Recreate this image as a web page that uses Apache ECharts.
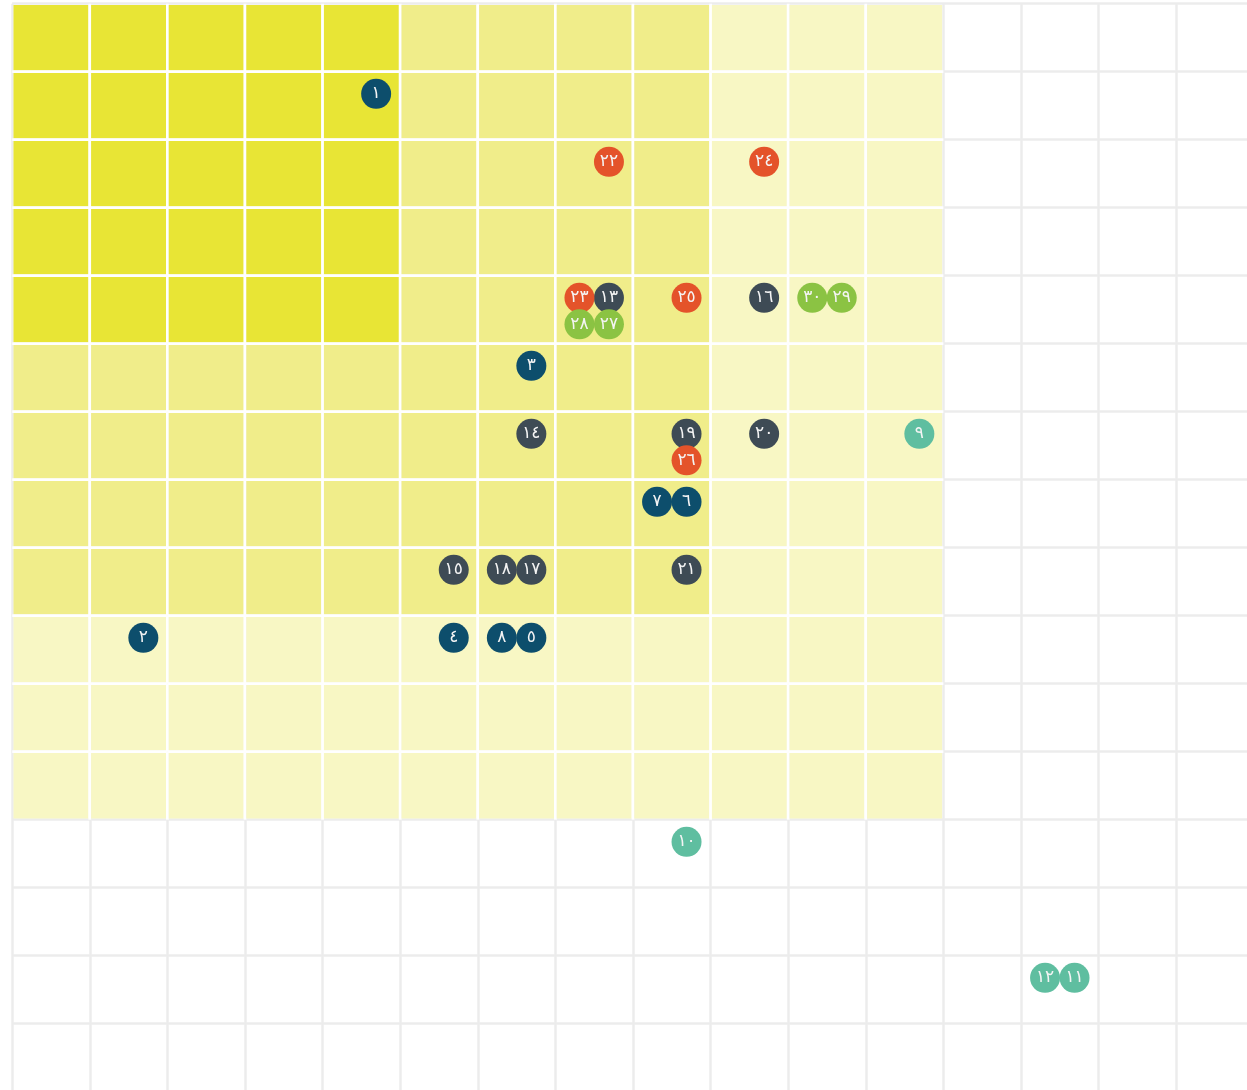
<!DOCTYPE html>
<html>
<head>
<meta charset="utf-8">
<style>
  html, body { margin: 0; padding: 0; background: #fff; }
  #chart { width: 1247px; height: 1090px; }
</style>
<script src="https://cdn.jsdelivr.net/npm/echarts@6/dist/echarts.min.js"></script>
</head>
<body>
<div id="chart"></div>
<script>
const gridSize = 16

// zone level of each cell, row by row from the top (0 = none, 3 = strongest)
const zoneRows = [
  '3333322221110000',
  '3333322221110000',
  '3333322221110000',
  '3333322221110000',
  '3333322221110000',
  '2222222221110000',
  '2222222221110000',
  '2222222221110000',
  '2222222221110000',
  '1111111111110000',
  '1111111111110000',
  '1111111111110000',
  '0000000000000000',
  '0000000000000000',
  '0000000000000000',
  '0000000000000000',
]

const groupNames = ['A', 'B', 'C', 'D', 'E']

const riskIds = [1, 2, 3, 4, 5, 6, 7, 8, 9, 10, 11, 12, 13, 14, 15, 16, 17, 18, 19, 20, 21, 22, 23, 24, 25, 26, 27, 28, 29, 30]
const riskCols = [4, 1, 6, 5, 6, 8, 8, 6, 11, 8, 13, 13, 7, 6, 5, 9, 6, 6, 8, 9, 8, 7, 7, 9, 8, 8, 7, 7, 10, 10]
const riskRows = [1, 9, 5, 9, 9, 7, 7, 9, 6, 12, 14, 14, 4, 6, 8, 4, 8, 8, 6, 6, 8, 2, 4, 2, 4, 6, 4, 4, 4, 4]
// position inside the cell: 0 top-right, 1 top-left, 2 bottom-right, 3 bottom-left
const riskSlots = [0, 0, 0, 0, 0, 0, 1, 1, 0, 0, 0, 1, 0, 0, 0, 0, 0, 1, 0, 0, 0, 0, 1, 0, 0, 2, 2, 3, 0, 1]
const riskGroups = [0, 0, 0, 0, 0, 0, 0, 0, 1, 1, 1, 1, 2, 2, 2, 2, 2, 2, 2, 2, 2, 3, 3, 3, 3, 3, 4, 4, 4, 4]

const zoneColors = ['#ffffff', '#f8f7c4', '#f0ed8a', '#e8e535']
const groupColors = ['#0d4e6c', '#5fbea0', '#3e4b55', '#e4532a', '#8bc343']
const slotDx = [0.19, -0.19, 0.19, -0.19]
const slotDy = [-0.175, -0.175, 0.215, 0.215]

const arabicDigits = '٠١٢٣٤٥٦٧٨٩'
const toArabic = (n) => String(n).replace(/\d/g, (d) => arabicDigits[+d])

function levelAt(c, r) {
  if (c >= gridSize || r >= gridSize) return 0
  return +zoneRows[r][c]
}

const zoneData = []
zoneRows.forEach((row, r) => {
  row.split('').forEach((ch, c) => {
    if (+ch) zoneData.push([c, r, +ch])
  })
})

function renderZone(params, api) {
  const c = api.value(0)
  const r = api.value(1)
  const lv = api.value(2)
  const p0 = api.coord([c, r])
  const p1 = api.coord([c + 1, r + 1])
  const gap = 1.3
  const children = [
    {
      type: 'rect',
      shape: { x: p0[0] + gap, y: p0[1] + gap, width: p1[0] - p0[0] - gap * 2, height: p1[1] - p0[1] - gap * 2 },
      style: { fill: zoneColors[lv] },
    },
  ]
  // white gaps between neighbouring coloured cells
  if (levelAt(c + 1, r)) {
    children.push({
      type: 'line',
      shape: { x1: p1[0], y1: p0[1], x2: p1[0], y2: p1[1] },
      style: { stroke: '#fff', lineWidth: 2.8 },
    })
  }
  if (levelAt(c, r + 1)) {
    children.push({
      type: 'line',
      shape: { x1: p0[0], y1: p1[1], x2: p1[0], y2: p1[1] },
      style: { stroke: '#fff', lineWidth: 2.8 },
    })
  }
  return { type: 'group', children }
}

const pointSeries = groupNames.map((name, g) => {
  const data = []
  riskIds.forEach((id, i) => {
    if (riskGroups[i] !== g) return
    const s = riskSlots[i]
    data.push([riskCols[i] + 0.5 + slotDx[s], riskRows[i] + 0.5 + slotDy[s], id])
  })
  return {
    name,
    type: 'scatter',
    z: 3,
    symbol: 'circle',
    symbolSize: 30,
    itemStyle: { color: groupColors[g], opacity: 1 },
    label: {
      show: true,
      position: 'inside',
      color: '#f4f4f4',
      fontSize: 17,
      fontFamily: 'DejaVu Sans',
      formatter: (p) => toArabic(p.value[2]),
    },
    data,
  }
})

const axisBase = {
  type: 'value',
  min: 0,
  max: gridSize,
  interval: 1,
  axisLine: { show: false },
  axisTick: { show: false },
  axisLabel: { show: false },
  splitLine: { show: true, lineStyle: { color: '#ececec', width: 2.5 } },
}

const chart = echarts.init(document.getElementById('chart'))
chart.setOption({
  animation: false,
  backgroundColor: '#fff',
  grid: { left: 12.2, top: 3.7, width: 1241.6, height: 1088, outerBoundsMode: 'none', containLabel: false },
  xAxis: { ...axisBase },
  yAxis: { ...axisBase, inverse: true },
  series: [
    {
      name: 'zones',
      type: 'custom',
      z: 1,
      silent: true,
      renderItem: renderZone,
      encode: { x: 0, y: 1 },
      data: zoneData,
    },
    ...pointSeries,
  ],
})
</script>
</body>
</html>
